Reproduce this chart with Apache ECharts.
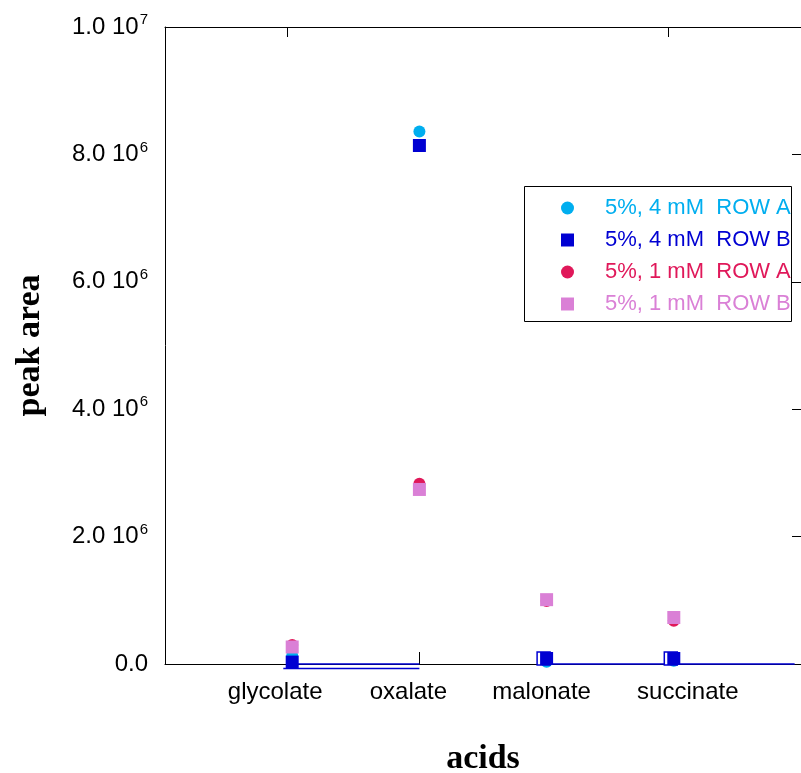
<!DOCTYPE html>
<html>
<head>
<meta charset="utf-8">
<style>
  html, body { margin: 0; padding: 0; background: #ffffff; }
  #chart { width: 801px; height: 773px; }
</style>
<script src="https://cdn.jsdelivr.net/npm/echarts@6/dist/echarts.min.js"></script>
</head>
<body>
<div id="chart"></div>
<script>
// Peak areas of four acids measured under two concentrations, rows A and B
const categories = ['glycolate', 'oxalate', 'malonate', 'succinate'];
const catPositions = [1, 2, 3, 4];

const seriesNames = ['5%, 4 mM  ROW A', '5%, 4 mM  ROW B', '5%, 1 mM  ROW A', '5%, 1 mM  ROW B'];
const row4mmA = [1.3e5, 8.36e6, 3.6e4, 5.0e4];
const row4mmB = [3.0e4, 8.14e6, 8.6e4, 8.6e4];
const row1mmA = [3.0e5, 2.83e6, 0.99e6, 0.68e6];
const row1mmB = [2.67e5, 2.74e6, 1.01e6, 0.73e6];

// second outline drawn behind the ROW B squares (malonate, succinate)
const outlineIdx = [2, 3];

// baseline traces along the x axis
const baseTraceA = [[1, 0], [2, 0], null, [3, 0], [4.95, 0]];
const baseTraceB = [[0.93, -7e4], [2, -7e4]];

// tick marks on the top frame
const topTicks = [0.96, 3.96];

// y tick labels: mantissa text and power of ten
const yMantissa = ['0.0', '2.0 10', '4.0 10', '6.0 10', '8.0 10', '1.0 10'];
const yExponent = ['', '6', '6', '6', '6', '7'];

const colors = ['#00AEEF', '#0000D2', '#E0185A', '#DA80D6'];

const pairs = (vals) => vals.map((v, i) => [catPositions[i], v]);

const chart = echarts.init(document.getElementById('chart'));

const labelFont = 'Liberation Sans, Arial, sans-serif';
const fs = 24;

chart.setOption({
  animation: false,
  backgroundColor: '#ffffff',
  grid: { left: 165, top: 27, right: 0, bottom: 109, containLabel: false, outerBoundsMode: 'none' },
  xAxis: [
    {
      type: 'value', position: 'bottom', min: 0, max: 5, interval: 1, gridIndex: 0,
      name: 'acids', nameLocation: 'middle', nameGap: 78,
      nameTextStyle: { fontFamily: 'Liberation Serif, Times New Roman, serif', fontWeight: 'bold', fontSize: 34, color: '#000' },
      axisLine: { show: true, onZero: false, lineStyle: { color: '#000', width: 1 } },
      axisTick: { show: true, inside: true, length: 12, lineStyle: { color: '#000' } },
      splitLine: { show: false },
      axisLabel: {
        margin: 16, fontSize: fs, fontFamily: labelFont, color: '#000',
        showMinLabel: false, showMaxLabel: false,
        formatter: (v) => {
          const i = catPositions.indexOf(v);
          return i >= 0 ? '{c' + i + '|' + categories[i] + '}' : '';
        },
        rich: {
          c0: { fontSize: fs, fontFamily: labelFont, padding: [0, 34, 0, 0] },
          c1: { fontSize: fs, fontFamily: labelFont, padding: [0, 22, 0, 0] },
          c2: { fontSize: fs, fontFamily: labelFont, padding: [0, 10, 0, 0] },
          c3: { fontSize: fs, fontFamily: labelFont, padding: [0, 0, 0, 28] }
        }
      }
    },
    {
      type: 'value', position: 'top', min: 0, max: 5, gridIndex: 0,
      axisLine: { show: true, onZero: false, lineStyle: { color: '#000', width: 1 } },
      axisTick: { show: true, inside: true, length: 10, customValues: topTicks, lineStyle: { color: '#000' } },
      axisLabel: { show: false },
      splitLine: { show: false }
    }
  ],
  yAxis: [
    {
      type: 'value', position: 'left', min: 0, max: 1e7, interval: 2e6, gridIndex: 0,
      name: 'peak area', nameLocation: 'middle', nameGap: 118, nameRotate: 90,
      nameTextStyle: { fontFamily: 'Liberation Serif, Times New Roman, serif', fontWeight: 'bold', fontSize: 34, color: '#000' },
      axisLine: { show: true, onZero: false, lineStyle: { color: '#000', width: 1 } },
      axisTick: { show: false },
      splitLine: { show: false },
      axisLabel: {
        margin: 17, color: '#000', fontFamily: labelFont, fontSize: fs,
        formatter: (v) => {
          const i = Math.round(v / 2e6);
          return yExponent[i] ? '{m|' + yMantissa[i] + '}{s|' + yExponent[i] + '}' : '{m|' + yMantissa[i] + '}';
        },
        rich: {
          m: { fontSize: fs, fontFamily: labelFont, color: '#000' },
          s: { fontSize: 15, fontFamily: labelFont, color: '#000', padding: [0, 0, 14, 1] }
        }
      }
    },
    {
      type: 'value', position: 'right', min: 0, max: 1e7, interval: 2e6, gridIndex: 0,
      axisLine: { show: true, onZero: false, lineStyle: { color: '#000', width: 1 } },
      axisTick: { show: true, inside: true, length: 9, lineStyle: { color: '#000' } },
      axisLabel: { show: false },
      splitLine: { show: false }
    }
  ],
  legend: {
    orient: 'vertical',
    left: 561, top: 197,
    itemWidth: 13, itemHeight: 13, itemGap: 10,
    padding: 0,
    textStyle: { fontFamily: labelFont, fontSize: 22, padding: [0, 0, 0, 26], lineHeight: 22 },
    data: seriesNames.map((n, i) => ({
      name: n,
      icon: i % 2 === 0 ? 'circle' : 'rect',
      textStyle: { color: colors[i] }
    }))
  },
  graphic: [
    {
      type: 'rect', z: 10, silent: true,
      shape: { x: 524.5, y: 186.5, width: 267, height: 135 },
      style: { fill: 'none', stroke: '#000', lineWidth: 1 }
    }
  ],
  series: [
    {
      name: 'trace', type: 'line', data: baseTraceA, symbol: 'none', clip: false,
      lineStyle: { color: '#0000D2', width: 1.5 }, z: 1, connectNulls: false
    },
    {
      name: 'trace2', type: 'line', data: baseTraceB, symbol: 'none', clip: false,
      lineStyle: { color: '#0000D2', width: 1.5 }, z: 1
    },
    {
      name: seriesNames[0], type: 'scatter', data: pairs(row4mmA), symbol: 'circle', symbolSize: 12,
      itemStyle: { color: colors[0], opacity: 1 }, clip: false, z: 2
    },
    {
      name: 'outline', type: 'scatter', clip: false, z: 2,
      data: outlineIdx.map((i) => [catPositions[i], row4mmB[i]]),
      symbol: 'rect', symbolSize: 13, symbolOffset: [-3, 0],
      itemStyle: { color: '#ffffff', borderColor: colors[1], borderWidth: 1.5, opacity: 1 }
    },
    {
      name: seriesNames[1], type: 'scatter', data: pairs(row4mmB), symbol: 'rect', symbolSize: 13,
      itemStyle: { color: colors[1], opacity: 1 }, clip: false, z: 3
    },
    {
      name: seriesNames[2], type: 'scatter', data: pairs(row1mmA), symbol: 'circle', symbolSize: 12,
      itemStyle: { color: colors[2], opacity: 1 }, clip: false, z: 4
    },
    {
      name: seriesNames[3], type: 'scatter', data: pairs(row1mmB), symbol: 'rect', symbolSize: 13,
      itemStyle: { color: colors[3], opacity: 1 }, clip: false, z: 5
    }
  ]
});
</script>
</body>
</html>
